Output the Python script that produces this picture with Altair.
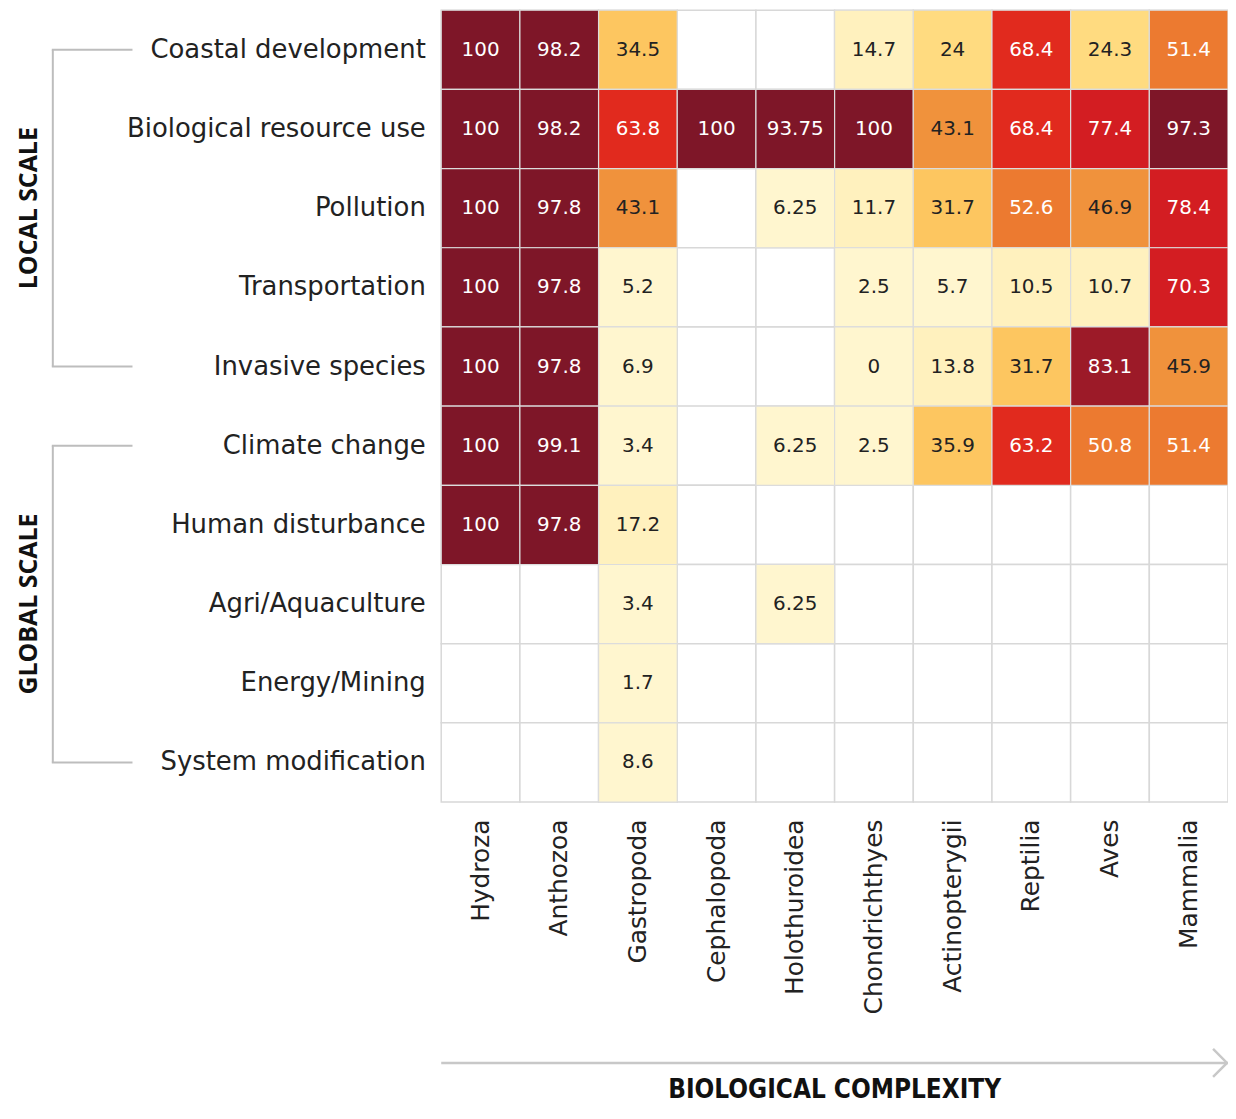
import altair as alt
import pandas as pd

taxa = ["Hydroza", "Anthozoa", "Gastropoda", "Cephalopoda", "Holothuroidea",
        "Chondrichthyes", "Actinopterygii", "Reptilia", "Aves", "Mammalia"]
threats = ["Coastal development", "Biological resource use", "Pollution",
           "Transportation", "Invasive species", "Climate change",
           "Human disturbance", "Agri/Aquaculture", "Energy/Mining",
           "System modification"]

coastal = [100, 98.2, 34.5, None, None, 14.7, 24, 68.4, 24.3, 51.4]
bio_use = [100, 98.2, 63.8, 100, 93.75, 100, 43.1, 68.4, 77.4, 97.3]
pollution = [100, 97.8, 43.1, None, 6.25, 11.7, 31.7, 52.6, 46.9, 78.4]
transport = [100, 97.8, 5.2, None, None, 2.5, 5.7, 10.5, 10.7, 70.3]
invasive = [100, 97.8, 6.9, None, None, 0, 13.8, 31.7, 83.1, 45.9]
climate = [100, 99.1, 3.4, None, 6.25, 2.5, 35.9, 63.2, 50.8, 51.4]
disturbance = [100, 97.8, 17.2, None, None, None, None, None, None, None]
agri = [None, None, 3.4, None, 6.25, None, None, None, None, None]
energy = [None, None, 1.7, None, None, None, None, None, None, None]
sysmod = [None, None, 8.6, None, None, None, None, None, None, None]

rows_values = [coastal, bio_use, pollution, transport, invasive, climate,
               disturbance, agri, energy, sysmod]

groups = ["LOCAL SCALE", "GLOBAL SCALE"]
group_start = ["Coastal development", "Climate change"]
group_end = ["Invasive species", "System modification"]
group_mid = ["Pollution", "Agri/Aquaculture"]

bin_edges = [10, 20, 30, 40, 50, 60, 70, 80, 90]
bin_colors = ["#FFF6CF", "#FFF1BE", "#FFDB80", "#FDC660", "#F0923C",
              "#EC7A30", "#E12A1E", "#D31D22", "#9C1A28", "#7E1628"]

FONT = "DejaVu Sans"
BOLD = "Open Sans"
W, H = 790, 795

cells = []
for threat, vals in zip(threats, rows_values):
    for taxon, v in zip(taxa, vals):
        cells.append({"threat": threat, "taxon": taxon, "v": v,
                      "label": (f"{v:g}" if v is not None else None)})
grid = pd.DataFrame(cells)
filled = grid.dropna(subset=["v"])

xs = alt.Scale(domain=taxa, paddingInner=0, paddingOuter=0)
ys = alt.Scale(domain=threats, paddingInner=0, paddingOuter=0)

X = alt.X("taxon:N", scale=xs, sort=taxa,
          axis=alt.Axis(title=None, orient="bottom", labelAngle=270, labelAlign="right",
                        labelBaseline="middle", labelPadding=17, ticks=False, domain=False,
                        labelFontSize=25, labelFont=FONT, labelColor="#222222",
                        labelLimit=400))
Y = alt.Y("threat:N", scale=ys, sort=threats,
          axis=alt.Axis(title=None, ticks=False, domain=False, labelPadding=16,
                        labelFontSize=26, labelFont=FONT, labelColor="#222222",
                        labelLimit=400))

bg = alt.Chart(grid).mark_rect(fill="white", stroke="#d8d8d8", strokeWidth=1.5).encode(x=X, y=Y)

heat = alt.Chart(filled).mark_rect(stroke="#dcdcdc", strokeWidth=1.2).encode(
    x=alt.X("taxon:N", scale=xs, sort=taxa),
    y=alt.Y("threat:N", scale=ys, sort=threats),
    color=alt.Color("v:Q", scale=alt.Scale(type="threshold", domain=bin_edges, range=bin_colors),
                    legend=None),
)

txt = alt.Chart(filled).mark_text(font=FONT, fontSize=20).encode(
    x=alt.X("taxon:N", scale=xs, sort=taxa),
    y=alt.Y("threat:N", scale=ys, sort=threats),
    text="label:N",
    color=alt.condition(alt.datum.v >= 50, alt.value("white"), alt.value("#222222")),
)

gdf = pd.DataFrame({"group": groups, "start": group_start, "end": group_end, "mid": group_mid})
ticks_df = pd.DataFrame({"row": group_start + group_end})

vline = alt.Chart(gdf).mark_rule(color="#bdbdbd", strokeWidth=2).encode(
    x=alt.value(-390),
    y=alt.Y("start:N", scale=ys, sort=threats),
    y2="end:N",
)
hticks = alt.Chart(ticks_df).mark_rule(color="#bdbdbd", strokeWidth=2).encode(
    x=alt.value(-391), x2=alt.value(-310),
    y=alt.Y("row:N", scale=ys, sort=threats),
)
glabels = alt.Chart(gdf).mark_text(font=BOLD, fontSize=25, fontWeight="bold", angle=270,
                                   color="#111111", align="center", baseline="middle").encode(
    x=alt.value(-414),
    y=alt.Y("mid:N", scale=ys, sort=threats),
    text="group:N",
)

one = pd.DataFrame({"t": ["BIOLOGICAL COMPLEXITY"]})
arrow_line = alt.Chart(one).mark_rule(color="#c8c8c8", strokeWidth=2.5).encode(
    x=alt.value(0), x2=alt.value(W), y=alt.value(H + 262))
arrow_head = alt.Chart(one).mark_point(shape="M-1,-1L0,0L-1,1", size=784, filled=False,
                                       color="#c8c8c8", strokeWidth=2.5, opacity=1).encode(
    x=alt.value(W - 1), y=alt.value(H + 262))
title = alt.Chart(one).mark_text(font="Liberation Sans Narrow, DejaVu Sans Condensed, Roboto, sans-serif",
                                 fontSize=26, fontWeight="bold",
                                 color="#111111", align="center", baseline="middle").encode(
    x=alt.value(W / 2), y=alt.value(H + 289), text="t:N")

chart = alt.layer(bg, heat, txt, vline, hticks, glabels, arrow_line, arrow_head, title).properties(
    width=W, height=H,
    autosize=alt.AutoSizeParams(type="none"),
    padding={"left": 435, "top": 0, "right": 0, "bottom": 306},
).configure_view(stroke=None)

chart.save("out.html", embed_options={"renderer": "svg", "actions": False})
